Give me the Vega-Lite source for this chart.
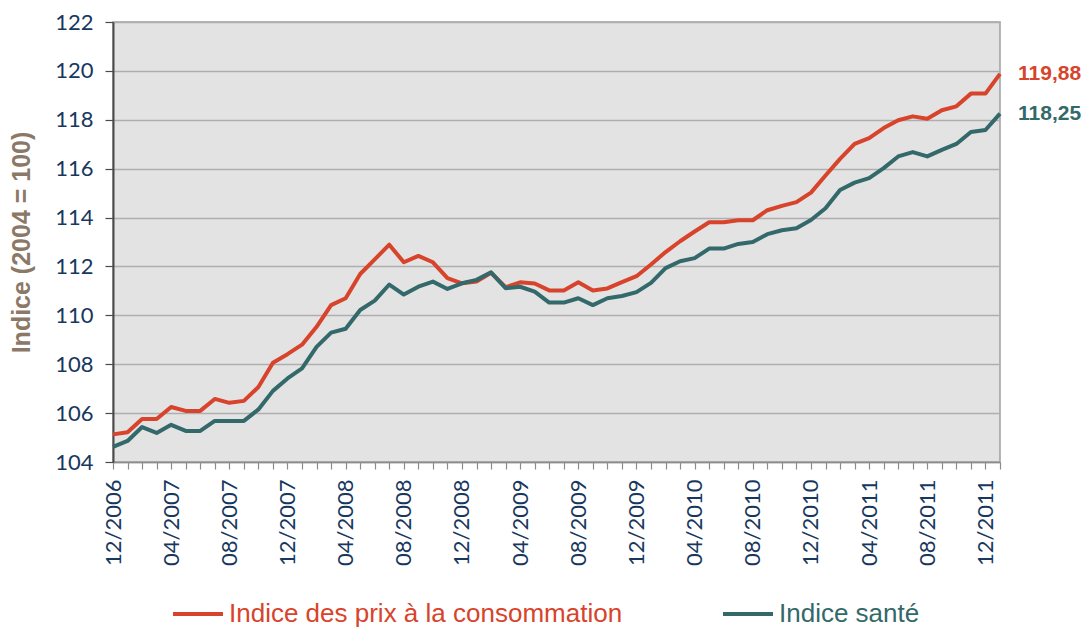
{
  "$schema": "https://vega.github.io/schema/vega-lite/v6.json",
  "width": 887,
  "height": 440,
  "autosize": {"type": "none"},
  "padding": {"left": 113, "top": 22, "right": 85, "bottom": 166},
  "background": "white",
  "config": {
    "view": {"fill": "#E3E3E3", "stroke": "#A0A0A0", "strokeWidth": 1.5}
  },
  "data": {
    "values": [
      {"m": "12/2006", "ipc": 105.13, "sante": 104.62},
      {"m": "01/2007", "ipc": 105.22, "sante": 104.86},
      {"m": "02/2007", "ipc": 105.76, "sante": 105.43},
      {"m": "03/2007", "ipc": 105.76, "sante": 105.19},
      {"m": "04/2007", "ipc": 106.25, "sante": 105.52},
      {"m": "05/2007", "ipc": 106.09, "sante": 105.27},
      {"m": "06/2007", "ipc": 106.09, "sante": 105.27},
      {"m": "07/2007", "ipc": 106.58, "sante": 105.68},
      {"m": "08/2007", "ipc": 106.42, "sante": 105.68},
      {"m": "09/2007", "ipc": 106.50, "sante": 105.68},
      {"m": "10/2007", "ipc": 107.07, "sante": 106.15},
      {"m": "11/2007", "ipc": 108.06, "sante": 106.91},
      {"m": "12/2007", "ipc": 108.41, "sante": 107.42},
      {"m": "01/2008", "ipc": 108.80, "sante": 107.83},
      {"m": "02/2008", "ipc": 109.53, "sante": 108.71},
      {"m": "03/2008", "ipc": 110.42, "sante": 109.29},
      {"m": "04/2008", "ipc": 110.70, "sante": 109.45},
      {"m": "05/2008", "ipc": 111.69, "sante": 110.22},
      {"m": "06/2008", "ipc": 112.29, "sante": 110.60},
      {"m": "07/2008", "ipc": 112.89, "sante": 111.26},
      {"m": "08/2008", "ipc": 112.17, "sante": 110.85},
      {"m": "09/2008", "ipc": 112.43, "sante": 111.17},
      {"m": "10/2008", "ipc": 112.17, "sante": 111.38},
      {"m": "11/2008", "ipc": 111.52, "sante": 111.08},
      {"m": "12/2008", "ipc": 111.31, "sante": 111.31},
      {"m": "01/2009", "ipc": 111.38, "sante": 111.45},
      {"m": "02/2009", "ipc": 111.74, "sante": 111.76},
      {"m": "03/2009", "ipc": 111.15, "sante": 111.11},
      {"m": "04/2009", "ipc": 111.35, "sante": 111.17},
      {"m": "05/2009", "ipc": 111.30, "sante": 110.97},
      {"m": "06/2009", "ipc": 111.02, "sante": 110.52},
      {"m": "07/2009", "ipc": 111.02, "sante": 110.52},
      {"m": "08/2009", "ipc": 111.35, "sante": 110.70},
      {"m": "09/2009", "ipc": 111.02, "sante": 110.42},
      {"m": "10/2009", "ipc": 111.10, "sante": 110.70},
      {"m": "11/2009", "ipc": 111.36, "sante": 110.79},
      {"m": "12/2009", "ipc": 111.60, "sante": 110.95},
      {"m": "01/2010", "ipc": 112.08, "sante": 111.33},
      {"m": "02/2010", "ipc": 112.59, "sante": 111.93},
      {"m": "03/2010", "ipc": 113.03, "sante": 112.21},
      {"m": "04/2010", "ipc": 113.43, "sante": 112.34},
      {"m": "05/2010", "ipc": 113.81, "sante": 112.73},
      {"m": "06/2010", "ipc": 113.81, "sante": 112.73},
      {"m": "07/2010", "ipc": 113.89, "sante": 112.92},
      {"m": "08/2010", "ipc": 113.89, "sante": 113.00},
      {"m": "09/2010", "ipc": 114.30, "sante": 113.32},
      {"m": "10/2010", "ipc": 114.48, "sante": 113.48},
      {"m": "11/2010", "ipc": 114.63, "sante": 113.56},
      {"m": "12/2010", "ipc": 115.02, "sante": 113.90},
      {"m": "01/2011", "ipc": 115.72, "sante": 114.38},
      {"m": "02/2011", "ipc": 116.40, "sante": 115.13},
      {"m": "03/2011", "ipc": 117.01, "sante": 115.43},
      {"m": "04/2011", "ipc": 117.25, "sante": 115.61},
      {"m": "05/2011", "ipc": 117.66, "sante": 116.02},
      {"m": "06/2011", "ipc": 117.98, "sante": 116.50},
      {"m": "07/2011", "ipc": 118.14, "sante": 116.68},
      {"m": "08/2011", "ipc": 118.04, "sante": 116.50},
      {"m": "09/2011", "ipc": 118.39, "sante": 116.77},
      {"m": "10/2011", "ipc": 118.55, "sante": 117.01},
      {"m": "11/2011", "ipc": 119.07, "sante": 117.50},
      {"m": "12/2011", "ipc": 119.07, "sante": 117.58},
      {"m": "01/2012", "ipc": 119.88, "sante": 118.25}
    ]
  },
  "transform": [
    {"fold": ["ipc", "sante"], "as": ["serie", "valeur"]}
  ],
  "encoding": {
    "x": {
      "field": "m",
      "type": "ordinal",
      "sort": null,
      "scale": {"type": "point", "padding": 0},
      "axis": {
        "title": null,
        "labelAngle": -90,
        "labelAlign": "right",
        "labelBaseline": "middle",
        "labelFont": "Lato",
        "labelFontSize": 22,
        "labelColor": "#17375E",
        "labelPadding": 10,
        "labelOverlap": false,
        "labelExpr": "indexof(['12','04','08'], slice(datum.value, 0, 2)) >= 0 ? datum.value : ''",
        "domainColor": "#8C8C8C",
        "domainWidth": 1.5,
        "tickColor": "#8C8C8C",
        "tickSize": 7,
        "tickWidth": 1.2,
        "grid": false
      }
    },
    "y": {
      "field": "valeur",
      "type": "quantitative",
      "scale": {"domain": [104, 122], "nice": false, "zero": false},
      "axis": {
        "values": [104, 106, 108, 110, 112, 114, 116, 118, 120, 122],
        "title": "Indice (2004 = 100)",
        "titleFont": "Liberation Sans",
        "titleFontSize": 25,
        "titleFontWeight": "bold",
        "titleColor": "#8B7866",
        "titlePadding": 20,
        "labelFont": "Lato",
        "labelFontSize": 22,
        "labelColor": "#17375E",
        "labelPadding": 12,
        "grid": true,
        "gridColor": "#AEAEAE",
        "gridWidth": 1.5,
        "domainColor": "#4A4A4A",
        "domainWidth": 2,
        "tickColor": "#4A4A4A",
        "tickSize": 8,
        "tickWidth": 1.2
      }
    },
    "color": {
      "field": "serie",
      "type": "nominal",
      "scale": {"domain": ["ipc", "sante"], "range": ["#D8432B", "#33696A"]},
      "legend": {
        "title": null,
        "orient": "none",
        "legendX": 58,
        "legendY": 565,
        "direction": "horizontal",
        "symbolType": "stroke",
        "symbolSize": 2500,
        "symbolStrokeWidth": 4,
        "labelFont": "Liberation Sans",
        "labelFontSize": 26,
        "labelOffset": 4,
        "labelLimit": 0,
        "columnPadding": 92,
        "labelExpr": "datum.value == 'ipc' ? 'Indice des prix à la consommation' : 'Indice santé'",
        "encode": {
          "labels": {"update": {"fill": {"scale": "color", "field": "value"}}}
        }
      }
    }
  },
  "layer": [
    {
      "mark": {"type": "line", "strokeWidth": 4, "strokeJoin": "round"}
    },
    {
      "transform": [
        {"filter": "datum.m == '01/2012'"},
        {"calculate": "replace(format(datum.valeur, '.2f'), '.', ',')", "as": "etiquette"}
      ],
      "mark": {
        "type": "text",
        "align": "left",
        "baseline": "middle",
        "dx": 18,
        "font": "Liberation Sans",
        "fontSize": 21,
        "fontWeight": "bold"
      },
      "encoding": {
        "text": {"field": "etiquette"}
      }
    }
  ]
}
